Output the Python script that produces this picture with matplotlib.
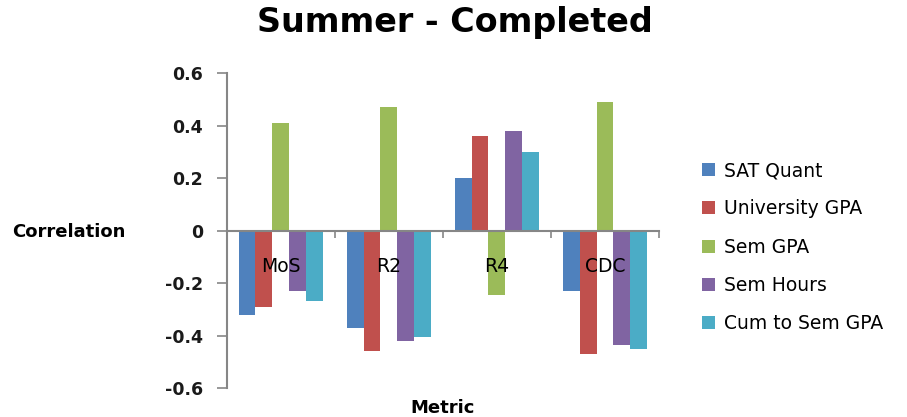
import numpy as np
import matplotlib.pyplot as plt

# Correlation of each predictor with the metric, summer completers
metrics = ['MoS', 'R2', 'R4', 'CDC']
sat_quant = [-0.32, -0.37, 0.20, -0.23]
university_gpa = [-0.29, -0.46, 0.36, -0.47]
sem_gpa = [0.41, 0.47, -0.245, 0.49]
sem_hours = [-0.23, -0.42, 0.38, -0.435]
cum_to_sem_gpa = [-0.27, -0.405, 0.30, -0.45]

series = [
    ('SAT Quant', sat_quant, '#4F81BD'),
    ('University GPA', university_gpa, '#C0504D'),
    ('Sem GPA', sem_gpa, '#9BBB59'),
    ('Sem Hours', sem_hours, '#8064A2'),
    ('Cum to Sem GPA', cum_to_sem_gpa, '#4BACC6'),
]

plt.rcParams['font.family'] = 'DejaVu Sans'

fig = plt.figure(figsize=(9.07, 4.17), dpi=100)
ax = fig.add_axes([0.250, 0.0695, 0.4766, 0.7545])

x = np.arange(len(metrics))
width = 1 / 6.4
for i, (name, vals, col) in enumerate(series):
    ax.bar(x + (i - 2) * width, vals, width, color=col, label=name, zorder=1)

ax.set_xlim(-0.5, len(metrics) - 0.5)
ax.set_ylim(-0.6, 0.6)
ax.set_yticks(np.arange(-0.6, 0.61, 0.2))
ax.set_yticklabels(['-0.6', '-0.4', '-0.2', '0', '0.2', '0.4', '0.6'],
                   fontsize=12.5, fontweight='bold', color='#1a1a1a')
ax.tick_params(axis='y', length=7, width=1.2, color='#868686', pad=10)

# category axis sits on zero, with ticks between groups
ax.spines['bottom'].set_position(('data', 0))
ax.set_xticks(np.arange(-0.5, len(metrics)), labels=[])
ax.tick_params(axis='x', which='major', length=5, width=1.2, color='#868686')
ax.set_xticks(x, labels=metrics, minor=True)
ax.tick_params(axis='x', which='minor', length=0, pad=19, labelsize=13.5)

for side in ['top', 'right']:
    ax.spines[side].set_visible(False)
for side in ['left', 'bottom']:
    ax.spines[side].set_color('#868686')
    ax.spines[side].set_linewidth(1.5)

fig.text(0.502, 0.945, 'Summer - Completed', ha='center', va='center',
         fontsize=24, fontweight='bold')
fig.text(0.013, 1 - 232 / 417, 'Correlation', ha='left', va='center',
         fontsize=13, fontweight='bold')
fig.text(443 / 907, 0.0, 'Metric', ha='center', va='bottom',
         fontsize=13, fontweight='bold')

ax.legend(loc='upper left', bbox_to_anchor=(702 / 907, 1 - 161 / 417),
          bbox_transform=fig.transFigure, frameon=False, fontsize=13.5,
          handlelength=0.7, handleheight=0.7, handletextpad=0.5,
          labelspacing=1.03, borderaxespad=0, borderpad=0)

fig.savefig('out.png', dpi=100)
